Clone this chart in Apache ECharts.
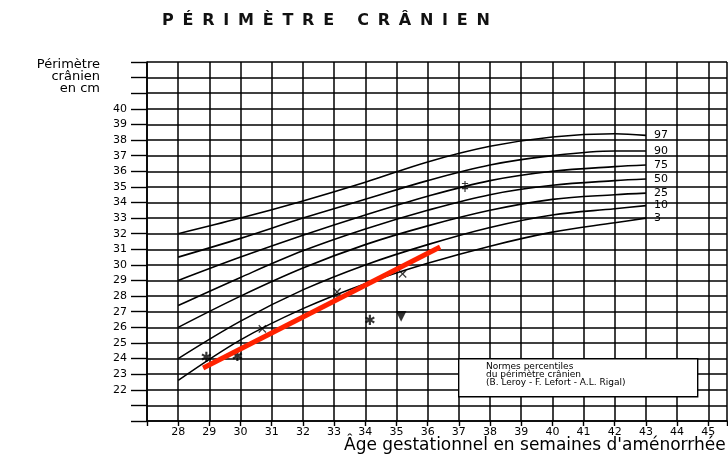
<!DOCTYPE html>
<html>
<head>
<meta charset="utf-8">
<script src="https://cdn.jsdelivr.net/npm/echarts@6/dist/echarts.min.js"></script>
<style>
  html, body { margin: 0; padding: 0; background: #fff; }
  #main { width: 728px; height: 458px; }
</style>
</head>
<body>
<div id="main"></div>
<script>
// gestational age (weeks) at which the percentile curves are read
const weeks = [28, 30, 32, 34, 36, 38, 40, 42, 43]
const p97 = [32.0, 33.0, 34.1, 35.3, 36.6, 37.6, 38.2, 38.4, 38.3]
const p90 = [30.5, 31.7, 33.0, 34.2, 35.4, 36.4, 37.0, 37.3, 37.3]
const p75 = [29.0, 30.5, 31.9, 33.2, 34.4, 35.4, 36.0, 36.3, 36.4]
const p50 = [27.4, 29.2, 30.9, 32.3, 33.5, 34.5, 35.1, 35.4, 35.5]
const p25 = [26.0, 28.0, 29.8, 31.3, 32.5, 33.5, 34.2, 34.5, 34.6]
const p10 = [24.0, 26.4, 28.4, 30.0, 31.3, 32.4, 33.2, 33.6, 33.8]
const p3 = [22.6, 25.2, 27.2, 28.8, 30.1, 31.2, 32.1, 32.7, 33.0]
const percentiles = [
  ["97", p97], ["90", p90], ["75", p75], ["50", p50],
  ["25", p25], ["10", p10], ["3", p3]
]

// patient measurements written on the scan
const markWeeks = [28.9, 29.9, 30.7, 33.1, 35.2, 34.15, 35.15, 37.2]
const markCm = [24.0, 24.1, 25.8, 28.2, 29.3, 26.4, 26.7, 35.0]
const markGlyphs = ["✱", "✱", "✕", "✕", "✕", "✱", "▼", "‡"]

// red trend line
const redWeeks = [28.8, 36.4]
const redCm = [23.4, 31.15]

// y axis caption, one line each, right aligned
const yNameLines = ["Périmètre", "crânien", "en cm"]

const chart = echarts.init(document.getElementById("main"))

const curveSeries = percentiles.map(([name, vals]) => ({
  name: name,
  type: "line",
  smooth: 0.35,
  showSymbol: false,
  silent: true,
  lineStyle: { color: "#000", width: 1.6 },
  endLabel: {
    show: true,
    formatter: "{a}",
    color: "#000",
    fontSize: 11,
    fontFamily: "DejaVu Sans",
    distance: 8
  },
  data: weeks.map((w, i) => [w, vals[i]])
}))

// spaced-out title like the printed sheet
const titleText = "PÉRIMÈTRE CRÂNIEN".split("").join(" \u2009")

const option = {
  backgroundColor: "#fff",
  animation: false,
  title: {
    text: titleText,
    left: 157,
    top: 8,
    textStyle: { fontSize: 16, fontWeight: "bold", color: "#111", fontFamily: "DejaVu Sans" }
  },
  grid: { left: 147, right: 1, top: 62, bottom: 37, containLabel: false, outerBoundsMode: "none" },
  xAxis: {
    type: "value",
    min: 27,
    max: 45.6,
    interval: 1,
    axisLine: { show: true, lineStyle: { color: "#000", width: 1.6 } },
    axisTick: { show: true, inside: false, length: 5, lineStyle: { color: "#000", width: 1.4 } },
    splitLine: { show: true, lineStyle: { color: "#000", width: 1.5 } },
    axisLabel: {
      color: "#000",
      fontSize: 11,
      fontFamily: "DejaVu Sans",
      margin: 6,
      formatter: v => (Number.isInteger(v) && v >= 28 && v <= 45 ? String(v) : "")
    }
  },
  yAxis: {
    type: "value",
    min: 20,
    max: 43,
    interval: 1,
    axisLine: { show: true, lineStyle: { color: "#000", width: 1.6 } },
    axisTick: { show: true, inside: false, length: 16, lineStyle: { color: "#000", width: 1.4 } },
    splitLine: { show: true, lineStyle: { color: "#000", width: 1.5 } },
    axisLabel: {
      color: "#000",
      fontSize: 11,
      fontFamily: "DejaVu Sans",
      margin: 20,
      formatter: v => (v >= 22 && v <= 40 ? String(v) : "")
    }
  },
  graphic: [
    ...yNameLines.map((t, i) => ({
      type: "text",
      right: 628,
      top: 58 + i * 12,
      style: { text: t, fill: "#000", fontSize: 13, fontFamily: "DejaVu Sans" }
    })),
    {
      type: "text",
      left: 344,
      top: 437,
      style: {
        text: "Âge gestationnel en semaines d'aménorrhée",
        fill: "#000",
        fontSize: 17,
        fontFamily: "DejaVu Sans"
      }
    },
    {
      type: "rect",
      left: 458,
      top: 358,
      z: 10,
      shape: { width: 239, height: 38 },
      style: { fill: "#fff", stroke: "#000", lineWidth: 1.4 }
    },
    {
      type: "text",
      left: 486,
      top: 362,
      z: 11,
      style: {
        text: "Normes percentiles\ndu périmètre crânien\n(B. Leroy - F. Lefort - A.L. Rigal)",
        fill: "#000",
        fontSize: 9,
        lineHeight: 8,
        fontFamily: "DejaVu Sans"
      }
    }
  ],
  series: [
    ...curveSeries,
    {
      name: "trend",
      type: "line",
      showSymbol: false,
      silent: true,
      z: 5,
      lineStyle: { color: "#ff2200", width: 5 },
      data: redWeeks.map((w, i) => [w, redCm[i]])
    },
    {
      name: "mesures",
      type: "scatter",
      symbolSize: 1,
      silent: true,
      itemStyle: { color: "rgba(0,0,0,0)" },
      label: {
        show: true,
        position: "inside",
        color: "#000",
        fontSize: 14,
        fontFamily: "DejaVu Sans",
        formatter: p => p.value[2]
      },
      data: markWeeks.map((w, i) => [w, markCm[i], markGlyphs[i]])
    }
  ]
}

option && chart.setOption(option)
</script>
</body>
</html>
